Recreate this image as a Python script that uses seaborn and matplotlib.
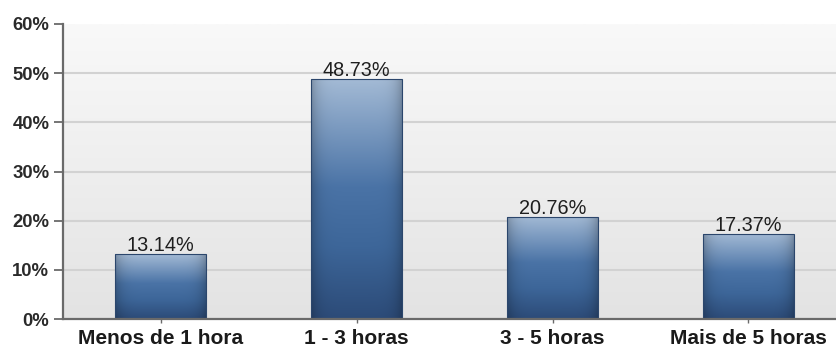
import numpy as np
import matplotlib
matplotlib.use("Agg")
import matplotlib.pyplot as plt
import seaborn as sns
from matplotlib.colors import LinearSegmentedColormap, to_rgb

# Time categories and share of respondents (%)
categories = ["Menos de 1 hora", "1 - 3 horas", "3 - 5 horas", "Mais de 5 horas"]
values = [13.14, 48.73, 20.76, 17.37]
value_labels = ["13.14%", "48.73%", "20.76%", "17.37%"]
y_ticks = [0, 10, 20, 30, 40, 50, 60]
y_tick_labels = ["0%", "10%", "20%", "30%", "40%", "50%", "60%"]

sns.set_theme(style="white")
plt.rcParams["font.family"] = ["Liberation Sans", "DejaVu Sans"]

W, H = 836, 347
fig = plt.figure(figsize=(W / 100, H / 100), dpi=100)
fig.patch.set_facecolor("white")
ax = fig.add_axes([62.5 / W, (H - 319) / H, 784 / W, 295 / H])

sns.barplot(x=categories, y=values, width=0.464, color="#3d6699",
            edgecolor="#2b466c", linewidth=0.8, ax=ax, zorder=3)

ax.set_xlim(-0.5, 3.5)
ax.set_ylim(0, 60)

# plot-area background: soft vertical grey gradient (light at top)
bg = np.linspace(0, 1, 256).reshape(-1, 1)
bg_cmap = LinearSegmentedColormap.from_list("bg", ["#f9f9f9", "#e3e3e3"])
ax.imshow(bg, cmap=bg_cmap, aspect="auto", extent=(-0.5, 3.5, 0, 60),
          origin="upper", zorder=0, interpolation="bilinear")
ax.set_facecolor("#f0f0f0")

# horizontal grid lines
for v in y_ticks[1:-1]:
    ax.axhline(v, color="#d2d2d2", lw=1.5, zorder=1)

# shaded fill for each bar: light top, deep blue bottom, darker side edges
stops = [(0.0, "#a3bad5"), (0.45, "#4a73a6"), (0.7, "#3d6699"), (1.0, "#2c4b78")]
vcols = np.array([to_rgb(c) for _, c in stops])
vpos = np.array([p for p, _ in stops])
t = np.linspace(0, 1, 200)
vert = np.stack([np.interp(t, vpos, vcols[:, i]) for i in range(3)], axis=-1)
xs = np.linspace(-1, 1, 80)
shade = 1 - 0.22 * np.abs(xs) ** 6
for patch in ax.patches:
    x0, y0 = patch.get_x(), patch.get_y()
    w, h = patch.get_width(), patch.get_height()
    img = vert[:, None, :] * shade[None, :, None]
    im = ax.imshow(np.clip(img, 0, 1), aspect="auto",
                   extent=(x0, x0 + w, y0, y0 + h), origin="upper",
                   zorder=3.5, interpolation="bilinear")
    im.set_clip_path(patch)
    patch.set_facecolor("none")
    patch.set_zorder(4)

# value labels above bars
for i, (v, lab) in enumerate(zip(values, value_labels)):
    ax.annotate(lab, (i, v), xytext=(0, 2.2), textcoords="offset points",
                ha="center", va="baseline", fontsize=14.3, color="#1e1e1e",
                zorder=5)

for side in ["top", "right"]:
    ax.spines[side].set_visible(False)
for side in ["left", "bottom"]:
    ax.spines[side].set_color("#6a6a6a")
    ax.spines[side].set_linewidth(1.6)
    ax.spines[side].set_zorder(6)

ax.set_yticks(y_ticks)
ax.set_yticklabels(y_tick_labels, fontsize=13.3, fontweight="bold", color="#2a2a2a")
ax.tick_params(axis="y", left=True, length=6.5, width=1.3, color="#6a6a6a", pad=3)
ax.set_xticks(range(len(categories)))
ax.set_xticklabels(categories, fontsize=15, fontweight="bold", color="#1a1a1a")
ax.tick_params(axis="x", bottom=True, length=3, width=1, color="#6a6a6a", pad=4)
ax.set_xlabel("")
ax.set_ylabel("")

fig.savefig("out.png", dpi=100, facecolor="white")
